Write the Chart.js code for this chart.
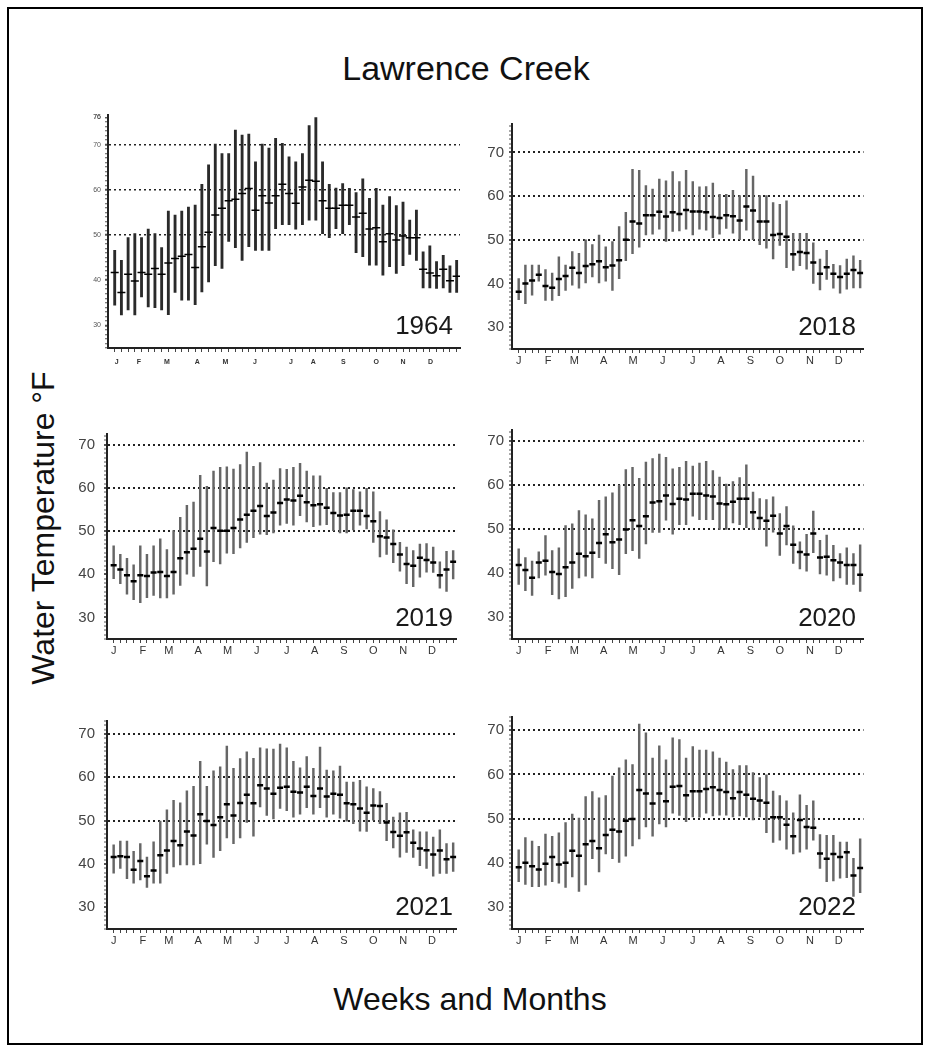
<!DOCTYPE html>
<html>
<head>
<meta charset="utf-8">
<script src="https://cdn.jsdelivr.net/npm/chart.js@4.4.1/dist/chart.umd.min.js"></script>
<style>
body { margin: 0; background: #fff; font-family: "Liberation Sans", Arial, sans-serif; }
#page { position: relative; width: 932px; height: 1052px; overflow: hidden; background: #fff; }
#frame { position: absolute; left: 7px; top: 7px; width: 912px; height: 1034px; border: 2px solid #000; }
.txt { position: absolute; color: #111; white-space: nowrap; line-height: 1; transform: translate(-50%, -50%); }
.yr { position: absolute; color: #1a1a1a; font-size: 26px; line-height: 1; transform: translate(-100%, -50%); }
canvas { position: absolute; }
</style>
</head>
<body>
<div id="page">
  <div id="frame"></div>
  <div class="txt" style="left:466px;top:68px;font-size:34px;">Lawrence Creek</div>
  <div class="txt" style="left:43px;top:528px;font-size:32px;transform:translate(-50%,-50%) rotate(-90deg);">Water Temperature °F</div>
  <div class="txt" style="left:470px;top:999px;font-size:32px;">Weeks and Months</div>
</div>
<script>
// weekly min / mean / max water temperature (°F)
const weeks = Array.from({length: 52}, (_, i) => i + 1);
const monthLabels = ['J','F','M','A','M','J','J','A','S','O','N','D'];
const monthWeeks = [1, 5.4, 9.3, 13.7, 18.1, 22.5, 27, 31.2, 35.6, 40, 44.5, 48.8];
const monthWeeks1964 = [1.3, 4.6, 8.8, 13.3, 17.5, 21.9, 27.3, 30.6, 35.1, 40, 44, 48.1];
const yLabels = [30, 40, 50, 60, 70];
const yLabels1964 = [30, 40, 50, 60, 70, 76];
const gridLevels = [50, 60, 70];

const hi1964 = [46.6,44.4,49.4,50.3,49.4,51.3,50.3,47.2,55.3,54.4, 55.3,56.2,56.6,61.2,65.5,70.1,68,68,73.2,72.1, 72.3,66.2,70.1,69.2,71.4,70.3,67.3,66.2,68,74.2, 76,66.2,61.2,60.4,61.4,60.3,59.4,62.4,58.1,60.3, 56.6,58.5,56.5,57.3,53.3,55.5,46.3,47.6,44.1,45.5, 43.2,44.4];
const mean1964 = [41.7,37.3,41.3,39.8,41.7,41.3,42.6,41.3,43.8,44.8, 45.3,45.7,42.8,47.4,50.6,54.4,55.9,57.6,57.9,59.2, 60.3,55.5,58.7,57.1,58.7,61.2,59.2,57,60.6,62.1, 61.9,57.6,55.9,55.9,56.6,56.6,54,54.8,51.3,51.6, 48.5,50.3,48.9,49.8,49.4,49.4,42.4,41.6,41,42.4, 39.9,40.9];
const lo1964 = [34.5,32.3,33.4,32.3,36.3,34.1,33.9,33.4,32.4,37.3, 35.6,35.6,34.6,37.4,39.6,43.2,42.6,48.6,47.2,44.4, 47.4,46.6,46.6,46.6,51.4,52.3,52.3,51.3,52.3,53.3, 53.3,50.3,49.4,51.4,50.3,52.3,46.1,45.2,43.3,43.3, 41.1,43,41.5,43.2,45.7,44.4,38.3,38.3,38.2,38.3, 37.3,37.3];

const hi2018 = [41.1,44.2,44.2,44.2,43.2,42.4,46.1,44.2,47.3,46.9, 50,48.9,51.1,48.4,49.6,53,56.3,66.1,65.9,62.4, 61.6,63.9,63.5,65.6,63.3,65.9,63.3,62.1,62.2,63, 60.4,60.4,61.3,60.1,66.1,64.6,60.1,60.1,58.5,58.1, 58.9,51.5,51.5,51.5,49.3,45.6,47.6,44.4,44.1,45.6, 46.3,45.3];
const mean2018 = [38.1,40,40.7,42,39.4,39,41,41.7,43.6,42.4, 44,44.4,45.1,43.7,44.1,45.3,50,54.2,53.7,55.6, 55.6,56.4,55.3,56.3,55.9,56.8,56.5,56.5,56.3,55.2, 55,55.6,55.4,54.4,57.6,56.7,54.2,54.2,51.1,51.3, 50.7,46.7,47.2,47,44.8,42.2,43.7,42.2,41.5,42.2, 43.1,42.4];
const lo2018 = [36.3,35.4,37.3,40.5,36.1,36.1,37.2,38.4,39.6,38.9, 40.1,41.5,40.1,40.5,38.4,41.1,45.2,46.8,48.3,51.1, 51.3,52.4,49.6,51.9,52,52.4,51.1,52.4,52.2,50.5, 51.3,52.6,51.5,50,52.2,50,48.9,48.1,45.6,48.7, 43.6,43,44.1,43.3,40,38.5,40.9,38.9,37.8,38.7, 39,39];

const hi2019 = [46.6,44.6,43.7,42.2,46.6,44.6,46.6,48.2,45.7,50.1, 53.2,56,56.7,62.9,60.4,63.9,64.8,64.9,64.4,65.4, 68.3,65,65.9,61.1,61.8,64.5,64.3,64.8,65.7,63.9, 62.8,62.8,59.9,58.9,58.9,60,59.6,59.1,59.9,59.1, 54.5,52.6,50.3,47.4,46.3,45.5,47,47.1,46.3,42.9, 45.3,45.5];
const mean2019 = [42.1,41.1,39.8,38.4,39.8,39.6,40.4,40.5,39.6,40.5, 43.7,45.1,45.9,48.2,45.3,50.7,50.1,50.1,50.7,52.7, 53.8,54.7,55.8,53.5,54.3,56.5,57.3,57.1,58.2,56.7, 56,56.2,55.4,54.2,53.6,53.8,54.7,54.7,53.5,52.3, 48.8,48.5,47,44.6,42.4,42,43.8,43.3,42.7,39.8, 41.1,42.9];
const lo2019 = [39,37.8,35.4,34.1,33.4,34.6,35.1,34.5,34.5,35.4, 37.4,40,39.5,41.8,37.3,42.9,42.4,44.9,44.8,46.1, 47.4,48.5,49.3,49.2,49.6,51.4,51.8,51.4,53.6,52.1, 51,51.4,51.5,50.1,49.6,49.6,50.3,51.4,50.5,47.4, 44,44.6,42.7,40.7,37.8,37.1,39.3,40.5,40.4,36.8, 36,38.9];

const hi2020 = [45.5,43.5,42.7,44.8,48.5,45.1,45.7,50.8,51.2,54.2, 53.2,52.3,56.5,57.3,58.2,60,63.5,64,61.5,65.2, 66,67,66.3,63.7,64,65.4,64.3,65,65.4,63.3, 61.8,60.2,60.8,61.7,64.6,58.4,56.9,56.7,57.3,53.5, 55.1,50.7,47.1,48.8,54.1,47.4,48.6,46.3,44.4,45.7, 44.4,46.4];
const mean2020 = [41.8,40.7,38.9,42.4,42.8,40.2,39.8,41.3,42.4,44.4, 43.8,44.6,46.8,48.8,47,47.6,49.9,52,50.7,52.9, 56,56.3,57.6,55.7,56.9,56.7,58,58,57.6,57.4, 55.8,55.6,56.2,56.9,56.9,53.8,52.5,51.9,53,49, 50.7,46.4,44.8,44.2,49,43.5,43.7,42.9,42.4,41.8, 41.8,39.6];
const lo2020 = [37.4,36,34.9,38.9,39.5,35.1,34.1,34.6,36.5,38.9, 39.3,38.9,43.5,42.2,41,39.6,44.4,45.1,43.3,46.6, 49.2,49.2,52,48.8,51,51,52.9,52.1,52.1,52.1, 49.9,49.9,51.4,51,50.3,49.9,49.9,46.1,49.3,44, 46.4,42.2,40.9,40.4,44.6,39.8,39.5,38.2,38.9,37.4, 37.4,35.8];

const hi2021 = [44.4,45.3,45.3,42.9,44.7,41.6,45.1,49.9,52.5,54.7, 54.1,56.9,57.9,63.7,57.9,61.5,62.4,67.2,62.1,64.3, 65.9,64.4,66.8,66.6,66.5,67.7,66.8,63.7,62.2,64.8, 62.1,67,61.7,61.5,62.6,58.9,58.9,59.3,57.8,57.4, 56.7,54,50.8,51.8,51.9,47.9,47.4,47.4,46.2,47.9, 44.7,44.9];
const mean2021 = [41.6,41.8,41.6,38.7,40.7,37.2,38.5,42,43.1,45.3, 44.3,47.5,46.6,51.5,49.9,49,50.8,53.8,51.2,54.1, 56,54,58.2,57.4,56.2,57.6,57.8,56.7,56.5,57.8, 55.7,57.4,55.6,56.2,56,54,53.8,52.8,51.8,53.5, 53.4,49.6,47.4,46.5,47.3,44.9,43.6,43.2,42.2,43.1, 41.1,41.6];
const lo2021 = [37.9,39,36.6,35.6,36.3,34.6,35.6,35.6,37.8,39.3, 39.8,39.8,39.8,40.1,44.6,41.5,43.1,46,44.7,46, 49.6,46.4,53.2,51.2,50.4,52.8,52.3,50.8,51.5,53, 51.5,53,50.8,51.5,50.6,49.9,49.3,47.6,47.5,50.1, 49.3,45.4,43.7,41.6,42.7,41.5,39.6,39,37.2,37.8, 37.8,38.3];

const hi2022 = [42.9,45.7,44.9,43.7,46.5,46,46.8,49.1,51,50.1, 55,56.1,54.7,55.2,59.6,61.5,63.3,62.2,71.4,69.4, 63.7,66.5,63.3,68.3,67.9,63.7,66.3,65.5,65.5,65.1, 63.7,62.8,61.1,62,62,60.4,59.3,59.9,56.2,55.2, 54,51.3,55.4,53,54,46.4,46.2,46.2,44.7,44.7, 41,45.4];
const mean2022 = [39,40,39.2,38.5,39.8,41.3,39.6,40,42.7,41.6, 44.2,44.9,43.3,46.3,47.5,47.1,49.5,49.9,56.5,55.7, 53.4,55.7,53.9,57.2,57.4,55.3,56.2,56.2,56.7,57.1, 56.5,56,54.6,56,55.4,54.5,54.1,53.6,50.3,50.3, 48.6,46,49.7,48.1,47.9,42.1,40.9,42,41.3,42.4, 37.1,38.8];
const lo2022 = [35.7,35.1,34.6,34.6,34.9,35.7,35.4,34.4,36.8,33.5, 35,40.9,37.9,42,40.9,40.1,41.5,43.8,45.4,48.1, 46,48.8,48.1,51.2,50.7,49.3,50.4,50.3,51.2,50.6, 50.8,50.8,50.4,50.6,50.4,49.7,50.4,46.8,44.6,45.1, 43.1,42,42.4,43.1,45.1,38.7,35.7,35.9,36.5,36.6, 32.4,33.2];

// panel layout (plot area in page pixels)
const panels = [
  {year: '1964', hi: hi1964, mean: mean1964, lo: lo1964, left: 108, top: 114.6, w: 352, h: 233, yMax: 76.5, old: true},
  {year: '2018', hi: hi2018, mean: mean2018, lo: lo2018, left: 512, top: 117.5, w: 352, h: 231.7, yMax: 76.5},
  {year: '2019', hi: hi2019, mean: mean2019, lo: lo2019, left: 107, top: 424.4, w: 350, h: 215.3, yMax: 72.5},
  {year: '2020', hi: hi2020, mean: mean2020, lo: lo2020, left: 512, top: 424.4, w: 352, h: 215.3, yMax: 72.5},
  {year: '2021', hi: hi2021, mean: mean2021, lo: lo2021, left: 107, top: 711.4, w: 350, h: 218, yMax: 73},
  {year: '2022', hi: hi2022, mean: mean2022, lo: lo2022, left: 512, top: 711.4, w: 352, h: 218, yMax: 73}
];
const YW = 50, XH = 24, PT = 8, PR = 6;
const page = document.getElementById('page');

panels.forEach((p) => {
  const canvas = document.createElement('canvas');
  canvas.width = YW + p.w + PR;
  canvas.height = PT + p.h + XH;
  canvas.style.left = (p.left - YW) + 'px';
  canvas.style.top = (p.top - PT) + 'px';
  page.appendChild(canvas);

  const rightCol = p.left > 400;
  const mw = p.old ? monthWeeks1964 : monthWeeks;
  const labs = p.old ? yLabels1964 : yLabels;

  new Chart(canvas.getContext('2d'), {
    type: 'bar',
    data: {
      datasets: [{
        type: 'line',
        data: weeks.map((w, i) => ({x: w, y: p.mean[i]})),
        showLine: false,
        pointStyle: 'line',
        pointRadius: p.old ? 4 : 3,
        pointBorderWidth: p.old ? 1.5 : 2.5,
        pointBorderColor: '#000',
        order: 1
      }, {
        type: 'bar',
        data: weeks.map((w, i) => ({x: w, y: [p.lo[i], p.hi[i]]})),
        backgroundColor: p.old ? '#2a2a2a' : '#666',
        barThickness: p.old ? 2.2 : 1.8,
        order: 2
      }]
    },
    options: {
      responsive: false,
      animation: false,
      layout: {padding: {top: PT, right: PR, left: 0, bottom: 0}},
      plugins: {legend: {display: false}, tooltip: {enabled: false}},
      scales: {
        x: {
          type: 'linear', min: 0, max: 52.5, offset: false,
          afterFit: (s) => { s.height = XH; },
          afterBuildTicks: (s) => {
            s.ticks = weeks.map((v) => ({value: v}))
              .concat(mw.map((v, i) => ({value: v, m: monthLabels[i]})));
          },
          ticks: {
            autoSkip: false, maxRotation: 0, padding: p.old ? 6 : 1,
            color: '#333',
            font: {family: '"Liberation Sans", Arial', size: p.old ? 7 : 11, weight: p.old ? 'bold' : 'normal'},
            callback: (v, i, t) => t[i].m || ''
          },
          grid: {
            offset: false, drawOnChartArea: false, tickLength: 4, tickWidth: 1,
            tickColor: (c) => (c.tick && c.tick.m) ? 'rgba(0,0,0,0)' : '#444'
          },
          border: {color: '#222', width: 2}
        },
        y: {
          type: 'linear', min: 25, max: p.yMax,
          afterFit: (s) => { s.width = YW; },
          afterBuildTicks: (s) => {
            const t = [];
            for (let v = 25; v <= p.yMax; v++) t.push({value: v});
            if (p.old) t.push({value: 76});
            s.ticks = t;
          },
          ticks: {
            autoSkip: false, padding: p.old ? 4 : (rightCol ? 5 : 9),
            color: p.old ? '#555' : '#444',
            font: {family: '"Liberation Sans", Arial', size: p.old ? 7 : 15},
            callback: (v) => labs.includes(v) ? String(v) : ''
          },
          grid: {
            color: (c) => (c.tick && gridLevels.includes(c.tick.value)) ? '#222' : 'rgba(0,0,0,0)',
            lineWidth: p.old ? 1.5 : 2,
            tickLength: 3,
            tickWidth: (c) => (c.tick && c.tick.value % 10 === 0) ? 2 : 1,
            tickColor: '#555'
          },
          border: {color: '#222', width: 2, dash: [2, 3]}
        }
      }
    }
  });

  const yr = document.createElement('div');
  yr.className = 'yr';
  yr.textContent = p.year;
  yr.style.left = (rightCol ? 856 : 453) + 'px';
  yr.style.top = (p.top + p.h - 23) + 'px';
  page.appendChild(yr);
});
</script>
</body>
</html>
